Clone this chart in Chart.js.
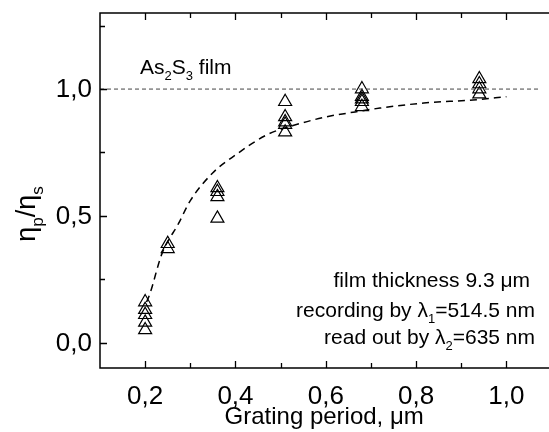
<!DOCTYPE html>
<html>
<head>
<meta charset="utf-8">
<script src="https://cdn.jsdelivr.net/npm/chart.js@4.4.1/dist/chart.umd.min.js"></script>
<style>
  body { margin: 0; background: #fff; }
  canvas { display: block; }
</style>
</head>
<body>
<canvas id="chart" width="549" height="432"></canvas>
<script>
// ------------------ Data ------------------
// measured points, grating period (um) and ratio
const periodX = [0.2, 0.2, 0.2, 0.2, 0.2,
                 0.25, 0.25,
                 0.36, 0.36, 0.36, 0.36,
                 0.51, 0.51, 0.51, 0.51, 0.51,
                 0.68, 0.68, 0.68, 0.68, 0.68,
                 0.94, 0.94, 0.94, 0.94];
const ratioY = [0.16, 0.13, 0.11, 0.08, 0.05,
                0.39, 0.37,
                0.61, 0.595, 0.575, 0.49,
                0.95, 0.89, 0.87, 0.86, 0.83,
                1.00, 0.97, 0.96, 0.95, 0.93,
                1.04, 1.02, 1.00, 0.98];

// fitted curve
const fitX = [0.203, 0.21, 0.237, 0.274, 0.30, 0.35, 0.40, 0.47, 0.535, 0.60, 0.665, 0.72, 0.817, 0.926, 1.0];
const fitY = [0.16, 0.19, 0.35, 0.47, 0.56, 0.67, 0.74, 0.82, 0.86, 0.89, 0.91, 0.925, 0.945, 0.957, 0.97];

// reference level
const refY = 1.0;

// axis ticks
const xMajor = [0.2, 0.4, 0.6, 0.8, 1.0];
const xMinor = [0.3, 0.5, 0.7, 0.9];
const yMajor = [0.0, 0.5, 1.0];
const yMinor = [0.25, 0.75, 1.25];

const FONT = '"Liberation Sans", Arial, Helvetica, sans-serif';

function comma(v) {
    return v.toFixed(1).replace('.', ',');
}

// text with subscript pieces: parts = [[text, isSub], ...]
function richWidth(ctx, parts, size) {
    let w = 0;
    parts.forEach(function(p) {
        ctx.font = (p[1] ? Math.round(size * 0.62) : size) + 'px ' + FONT;
        w += ctx.measureText(p[0]).width;
    });
    return w;
}

function drawRich(ctx, parts, x, y, size, align) {
    let w = richWidth(ctx, parts, size);
    let cx = align === 'right' ? x - w : (align === 'center' ? x - w / 2 : x);
    ctx.textAlign = 'left';
    ctx.textBaseline = 'alphabetic';
    parts.forEach(function(p) {
        ctx.font = (p[1] ? Math.round(size * 0.62) : size) + 'px ' + FONT;
        ctx.fillText(p[0], cx, p[1] ? y + size * 0.28 : y);
        cx += ctx.measureText(p[0]).width;
    });
}

// ------------------ Frame, ticks and labels ------------------
const framePlugin = {
    id: 'frame',
    afterDatasetsDraw: function(chart) {
        const ctx = chart.ctx;
        const a = chart.chartArea;
        const xs = chart.scales.x;
        const ys = chart.scales.y;
        ctx.save();
        ctx.strokeStyle = '#000';
        ctx.lineWidth = 1.5;
        ctx.beginPath();
        ctx.moveTo(chart.width, a.top);
        ctx.lineTo(a.left, a.top);
        ctx.lineTo(a.left, a.bottom);
        ctx.lineTo(chart.width, a.bottom);
        ctx.stroke();

        ctx.lineWidth = 1.3;
        ctx.beginPath();
        xMajor.concat(xMinor).forEach(function(v) {
            const len = xMajor.indexOf(v) >= 0 ? 7 : 5;
            const px = Math.round(xs.getPixelForValue(v)) + 0.5;
            ctx.moveTo(px, a.bottom); ctx.lineTo(px, a.bottom - len);
            ctx.moveTo(px, a.top); ctx.lineTo(px, a.top + len);
        });
        yMajor.concat(yMinor).forEach(function(v) {
            const len = yMajor.indexOf(v) >= 0 ? 7 : 5;
            const py = Math.round(ys.getPixelForValue(v)) + 0.5;
            ctx.moveTo(a.left, py); ctx.lineTo(a.left + len, py);
        });
        ctx.stroke();

        ctx.fillStyle = '#000';
        ctx.font = '26px ' + FONT;
        ctx.textAlign = 'center';
        ctx.textBaseline = 'alphabetic';
        xMajor.forEach(function(v) {
            ctx.fillText(comma(v), xs.getPixelForValue(v), a.bottom + 36);
        });
        ctx.textAlign = 'right';
        ctx.textBaseline = 'middle';
        yMajor.forEach(function(v) {
            ctx.fillText(comma(v), a.left - 8, ys.getPixelForValue(v) + 1);
        });

        // axis titles
        drawRich(ctx, [['Grating period, \u03bcm', false]], (a.left + a.right) / 2 + 4, 424, 24, 'center');
        ctx.save();
        ctx.translate(35, 214);
        ctx.rotate(-Math.PI / 2);
        drawRich(ctx, [['\u03b7', false], ['p', true], ['/\u03b7', false], ['s', true]], 0, 0, 27, 'center');
        ctx.restore();

        // annotations
        drawRich(ctx, [['As', false], ['2', true], ['S', false], ['3', true], [' film', false]], 140, 74, 21, 'left');
        drawRich(ctx, [['film thickness 9.3 \u03bcm', false]], 530, 287, 21, 'right');
        drawRich(ctx, [['recording by \u03bb', false], ['1', true], ['=514.5 nm', false]], 535, 317, 21, 'right');
        drawRich(ctx, [['read out by \u03bb', false], ['2', true], ['=635 nm', false]], 535, 344, 21, 'right');
        ctx.restore();
    }
};

// ------------------ Chart ------------------
const points = periodX.map(function(x, i) { return { x: x, y: ratioY[i] }; });
const fit = fitX.map(function(x, i) { return { x: x, y: fitY[i] }; });

new Chart(document.getElementById('chart').getContext('2d'), {
    type: 'scatter',
    data: {
        datasets: [{
            label: 'reference',
            data: [{ x: 0.1, y: refY }, { x: 1.075, y: refY }],
            showLine: true,
            borderColor: '#444',
            borderWidth: 1,
            borderDash: [4, 3],
            pointRadius: 0
        }, {
            label: 'fit',
            data: fit,
            showLine: true,
            cubicInterpolationMode: 'monotone',
            borderColor: '#000',
            borderWidth: 1.5,
            borderDash: [7, 5],
            pointRadius: 0
        }, {
            label: 'measured',
            data: points,
            pointStyle: 'triangle',
            pointRadius: 7.5,
            backgroundColor: 'rgba(255,255,255,0)',
            borderColor: '#000',
            borderWidth: 1.2
        }]
    },
    options: {
        responsive: false,
        animation: false,
        layout: { padding: { left: 100, right: 1, top: 13, bottom: 64 } },
        plugins: {
            legend: { display: false },
            tooltip: { enabled: false }
        },
        scales: {
            x: { type: 'linear', min: 0.1, max: 1.075, display: false },
            y: { type: 'linear', min: -0.1, max: 1.3, display: false }
        }
    },
    plugins: [framePlugin]
});
</script>
</body>
</html>
